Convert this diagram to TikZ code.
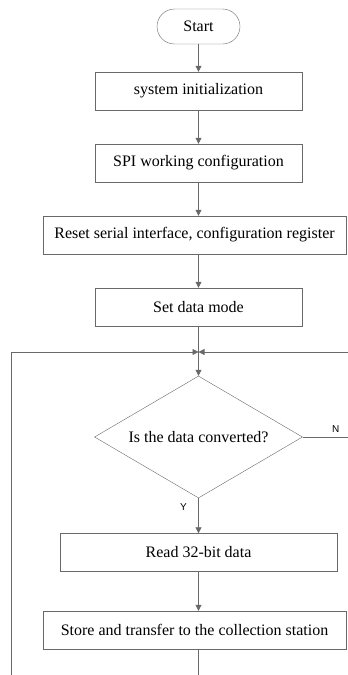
\documentclass[tikz,border=0pt]{standalone}
\usepackage{fontspec}
\setmainfont{Liberation Serif}
\newfontfamily\labelfont{Liberation Sans}
\usepackage{xcolor}
\usetikzlibrary{arrows.meta,shapes.geometric}

\definecolor{linegray}{RGB}{105,105,105}

\tikzset{
    procbox/.style={draw=linegray, rectangle, minimum height=38pt, font=\fontsize{16}{18}\selectfont, inner sep=2pt},
    flowarrow/.style={draw=linegray, line width=0.8pt, -{Triangle[width=6pt,length=6pt]}},
    yn/.style={font=\labelfont\fontsize{10}{12}\selectfont}
}

\begin{document}
\begin{tikzpicture}[x=1pt, y=-1pt]
    \useasboundingbox (0,0) rectangle (348,675);
    \clip (0,0) rectangle (348,675);

    % Steps
    \node[procbox, rounded corners=17.5pt, minimum width=83pt, minimum height=35pt] (start) at (198.5,26.5) {Start};
    \node[procbox, minimum width=207pt] (init) at (198.5,91) {system initialization};
    \node[procbox, minimum width=207pt] (spi) at (198.5,163) {SPI working configuration};
    \node[procbox, minimum width=303pt] (reset) at (194.5,235) {Reset serial interface, configuration register};
    \node[procbox, minimum width=207pt] (mode) at (198.5,307) {Set data mode};
    \node[draw=linegray, diamond, aspect=1.7, minimum width=208pt, minimum height=122pt, inner sep=0pt, font=\fontsize{16}{18}\selectfont] (check) at (198.5,437) {Is the data converted?};
    \node[procbox, minimum width=277pt] (read) at (198.5,552.5) {Read 32-bit data};
    \node[procbox, minimum width=303pt] (store) at (194.5,630) {Store and transfer to the collection station};

    \coordinate (join) at (198.5,352);

    % Connections
    \draw[flowarrow] (start) -- (init);
    \draw[flowarrow] (init) -- (spi);
    \draw[flowarrow] (spi) -- (spi |- reset.north);
    \draw[flowarrow] (mode |- reset.south) -- (mode);
    \draw[flowarrow] (mode) -- (check.north);
    \draw[flowarrow] (check.south) -- node[yn, left=8pt, pos=0.25] {Y} (read.north);
    \draw[flowarrow] (read) -- (read |- store.north);
    \draw[flowarrow] (read |- store.south) -- ++(0,60) -| (11,352) -- (join);
    \draw[flowarrow] (check.east) -- node[yn, above=1pt, pos=0.55] {N} ++(60,0) |- (join);
\end{tikzpicture}
\end{document}
